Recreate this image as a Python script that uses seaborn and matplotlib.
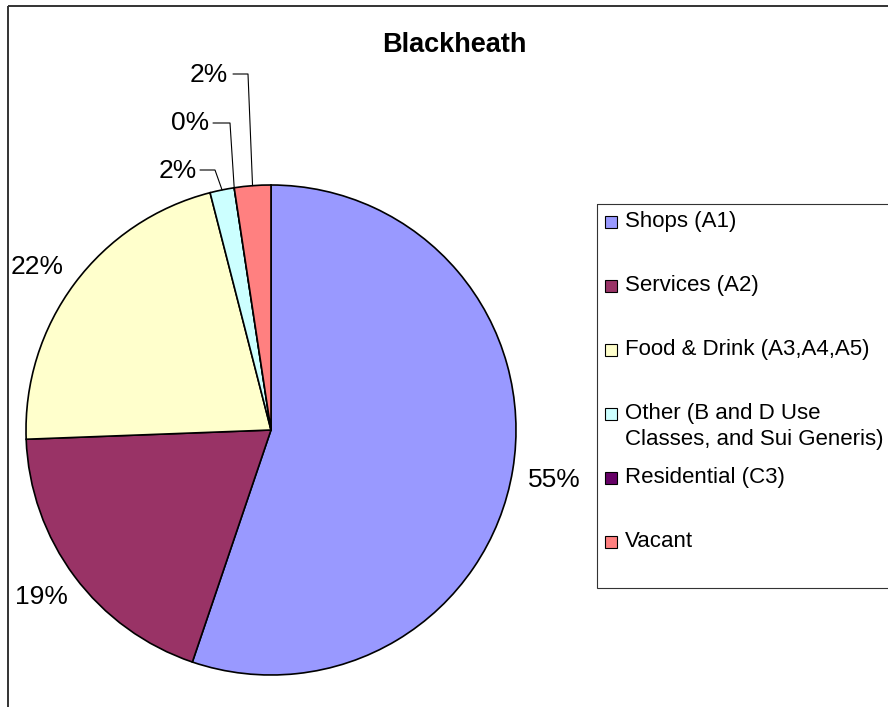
import matplotlib
matplotlib.use("Agg")
import matplotlib.pyplot as plt
import seaborn as sns
import numpy as np
from matplotlib.patches import Rectangle

# ------------------------------
# Data
# ------------------------------
categories = [
    "Shops (A1)",
    "Services (A2)",
    "Food & Drink (A3,A4,A5)",
    "Other (B and D Use\nClasses, and Sui Generis)",
    "Residential (C3)",
    "Vacant",
]
units = [69, 24, 27, 2, 0, 3]
colors = ["#9999FF", "#993366", "#FFFFCC", "#CCFFFF", "#660066", "#FF8080"]
title = "Blackheath"

# ------------------------------
# Style
# ------------------------------
sns.set_theme(style="white")
plt.rcParams["font.family"] = ["Liberation Sans", "DejaVu Sans"]
plt.rcParams["text.color"] = "black"

W, H = 888, 707
fig = plt.figure(figsize=(W / 100, H / 100), dpi=100)
ax = fig.add_axes([0, 0, 1, 1])

# pixel coordinates, y pointing down (so angles run clockwise on screen)
cx, cy, r = 271, 430, 245
wedges, _ = ax.pie(
    units,
    colors=colors,
    center=(cx, cy),
    radius=r,
    startangle=-90,
    counterclock=True,
    wedgeprops=dict(edgecolor="black", linewidth=1.2),
)
ax.set_xlim(0, W)
ax.set_ylim(H, 0)
ax.set_aspect("equal")
ax.axis("off")

# ------------------------------
# Percentage labels
# ------------------------------
total = sum(units)
pct_labels = [f"{round(100 * u / total):.0f}%" for u in units]
label_xy = [(554, 480), (41, 597), (37, 267), (178, 171), (190, 123), (209, 75)]
for lab, (x, y) in zip(pct_labels, label_xy):
    ax.text(x, y, lab, fontsize=19, ha="center", va="center", color="black")

# leader lines for the small slices
leader_start = {3: (200, 170), 4: (213, 123), 5: (233, 74)}
leader_elbow = {3: 215, 4: 230, 5: 248}
for i, (sx, sy) in leader_start.items():
    w = wedges[i]
    mid = np.deg2rad((w.theta1 + w.theta2) / 2)
    ex, ey = cx + r * np.cos(mid), cy + r * np.sin(mid)
    ax.plot([sx, leader_elbow[i], ex], [sy, sy, ey], color="black", lw=0.8)

# ------------------------------
# Title
# ------------------------------
ax.text(454, 45, title, fontsize=19.5, fontweight="bold", ha="center",
        va="center", color="black")

# ------------------------------
# Chart frame and legend box
# ------------------------------
ax.add_patch(Rectangle((7.5, 6), W + 20, H + 20, fill=False,
                       edgecolor="#333333", lw=1.4, clip_on=False))
ax.add_patch(Rectangle((597, 203.5), 320, 384.5, fill=False,
                       edgecolor="#333333", lw=0.8, clip_on=False))

leg_y = [222, 286, 350, 414, 478, 542]
for lab, col, y in zip(categories, colors, leg_y):
    ax.add_patch(Rectangle((605, y - 6), 12, 12, facecolor=col,
                           edgecolor="black", lw=0.8))
    ax.text(625, y - 11, lab, fontsize=16, ha="left", va="top",
            linespacing=1.3, color="black")

fig.savefig("out.png", dpi=100)
